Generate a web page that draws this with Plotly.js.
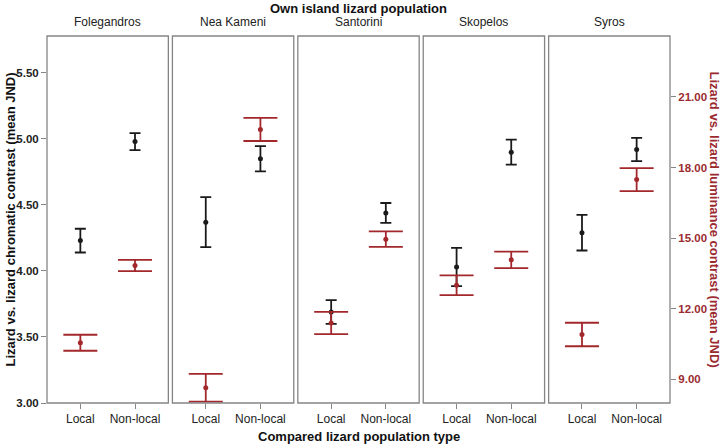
<!DOCTYPE html>
<html>
<head>
<meta charset="utf-8">
<script src="https://cdn.plot.ly/plotly-3.0.1.min.js"></script>
<style>html,body{margin:0;padding:0;background:#fff;}#chart{width:725px;height:447px;}</style>
</head>
<body>
<div id="chart"></div>
<script>
// ---- data ----
const islands = ["Folegandros", "Nea Kameni", "Santorini", "Skopelos", "Syros"];
const categories = ["Local", "Non-local"];
// chromatic contrast (left axis), mean and error half-width, per island [Local, Non-local]
const chromaMean = [[4.23, 4.98], [4.37, 4.85], [3.69, 4.44], [4.03, 4.90], [4.29, 4.92]];
const chromaErr  = [[0.09, 0.065], [0.19, 0.096], [0.09, 0.075], [0.145, 0.095], [0.135, 0.088]];
// luminance contrast (right axis)
const lumMean = [[10.56, 13.84], [8.65, 19.62], [11.40, 14.96], [13.00, 14.08], [10.91, 17.49]];
const lumErr  = [[0.34, 0.24], [0.59, 0.49], [0.47, 0.33], [0.42, 0.35], [0.50, 0.49]];
const leftTicks = [3.0, 3.5, 4.0, 4.5, 5.0, 5.5];
const rightTicks = [9, 12, 15, 18, 21];

const FONT = "Liberation Sans, Arial, sans-serif";
const BLACK = "#1a1a1a";
const RED = "#a3282c";
const RED_TXT = "#9b2b2f";
const GRAY = "#858585";

const gap = 0.0065;
const w = (1 - 4 * gap) / 5;
const traces = [];
const layout = {
  width: 725, height: 447,
  margin: {l: 47, r: 55, t: 36, b: 44},
  paper_bgcolor: "#fff", plot_bgcolor: "#fff",
  showlegend: false,
  font: {family: FONT, size: 12, color: "#222"},
  shapes: [], annotations: []
};

islands.forEach((isl, i) => {
  const xa = i === 0 ? "x" : "x" + (i + 1);
  const xkey = i === 0 ? "xaxis" : "xaxis" + (i + 1);
  const d0 = i * (w + gap), d1 = i === 4 ? 1 : d0 + w;
  layout[xkey] = {
    domain: [d0, d1], anchor: "y", type: "category",
    categoryorder: "array", categoryarray: categories,
    range: [-0.61, 1.61], showgrid: false, zeroline: false, showline: false,
    ticks: "outside", ticklen: 5, tickcolor: GRAY, tickwidth: 1,
    tickfont: {family: FONT, size: 12, color: "#222"}, fixedrange: true
  };
  traces.push({
    type: "scatter", mode: "markers", x: categories, y: chromaMean[i],
    xaxis: xa, yaxis: "y",
    marker: {color: BLACK, size: 5},
    error_y: {type: "data", array: chromaErr[i], visible: true, color: BLACK, thickness: 1.8, width: 5.5},
    hoverinfo: "x+y"
  });
  traces.push({
    type: "scatter", mode: "markers", x: categories, y: lumMean[i],
    xaxis: xa, yaxis: "y2",
    marker: {color: RED, size: 5},
    error_y: {type: "data", array: lumErr[i], visible: true, color: RED, thickness: 1.8, width: 17},
    hoverinfo: "x+y"
  });
  layout.shapes.push({
    type: "rect", xref: xa + " domain", yref: "y domain", x0: 0, x1: 1, y0: 0, y1: 1,
    line: {color: GRAY, width: 1.3}, fillcolor: "rgba(0,0,0,0)", layer: "above"
  });
  layout.annotations.push({
    text: isl, xref: xa + " domain", yref: "paper", x: 0.5, y: 1.038,
    xanchor: "center", yanchor: "middle", showarrow: false,
    font: {family: FONT, size: 12, color: "#222"}
  });
});

layout.yaxis = {
  domain: [0, 1], anchor: "x", range: [3.0, 5.78],
  tickvals: leftTicks, ticktext: leftTicks.map(v => v.toFixed(2)),
  ticks: "outside", ticklen: 5, tickcolor: GRAY, showgrid: false, zeroline: false, showline: false,
  tickfont: {family: FONT, size: 11.5, color: "#222", weight: "bold"}, fixedrange: true
};
layout.yaxis2 = {
  overlaying: "y", anchor: "x5", side: "right", range: [8.0, 23.59],
  tickvals: rightTicks, ticktext: rightTicks.map(v => v.toFixed(2)),
  ticks: "outside", ticklen: 5, tickcolor: GRAY, showgrid: false, zeroline: false, showline: false,
  tickfont: {family: FONT, size: 11.5, color: RED_TXT, weight: "bold"}, fixedrange: true
};

layout.annotations.push(
  {text: "Own island lizard population", xref: "paper", yref: "paper", x: 0.5, y: 1.076,
   xanchor: "center", yanchor: "middle", showarrow: false,
   font: {family: FONT, size: 13, color: "#111", weight: "bold"}},
  {text: "Compared lizard population type", xref: "paper", yref: "paper", x: 0.5, y: -0.0926,
   xanchor: "center", yanchor: "middle", showarrow: false,
   font: {family: FONT, size: 13, color: "#111", weight: "bold"}},
  {text: "Lizard vs. lizard chromatic contrast (mean JND)", xref: "paper", yref: "paper",
   x: -0.0578, y: 0.5, textangle: -90, xanchor: "center", yanchor: "middle", showarrow: false,
   font: {family: FONT, size: 13, color: "#111", weight: "bold"}},
  {text: "Lizard vs. lizard luminance contrast (mean JND)", xref: "paper", yref: "paper",
   x: 1.0722, y: 0.5, textangle: 90, xanchor: "center", yanchor: "middle", showarrow: false,
   font: {family: FONT, size: 13, color: RED_TXT, weight: "bold"}}
);

Plotly.newPlot("chart", traces, layout, {displayModeBar: false, staticPlot: true});
</script>
</body>
</html>
